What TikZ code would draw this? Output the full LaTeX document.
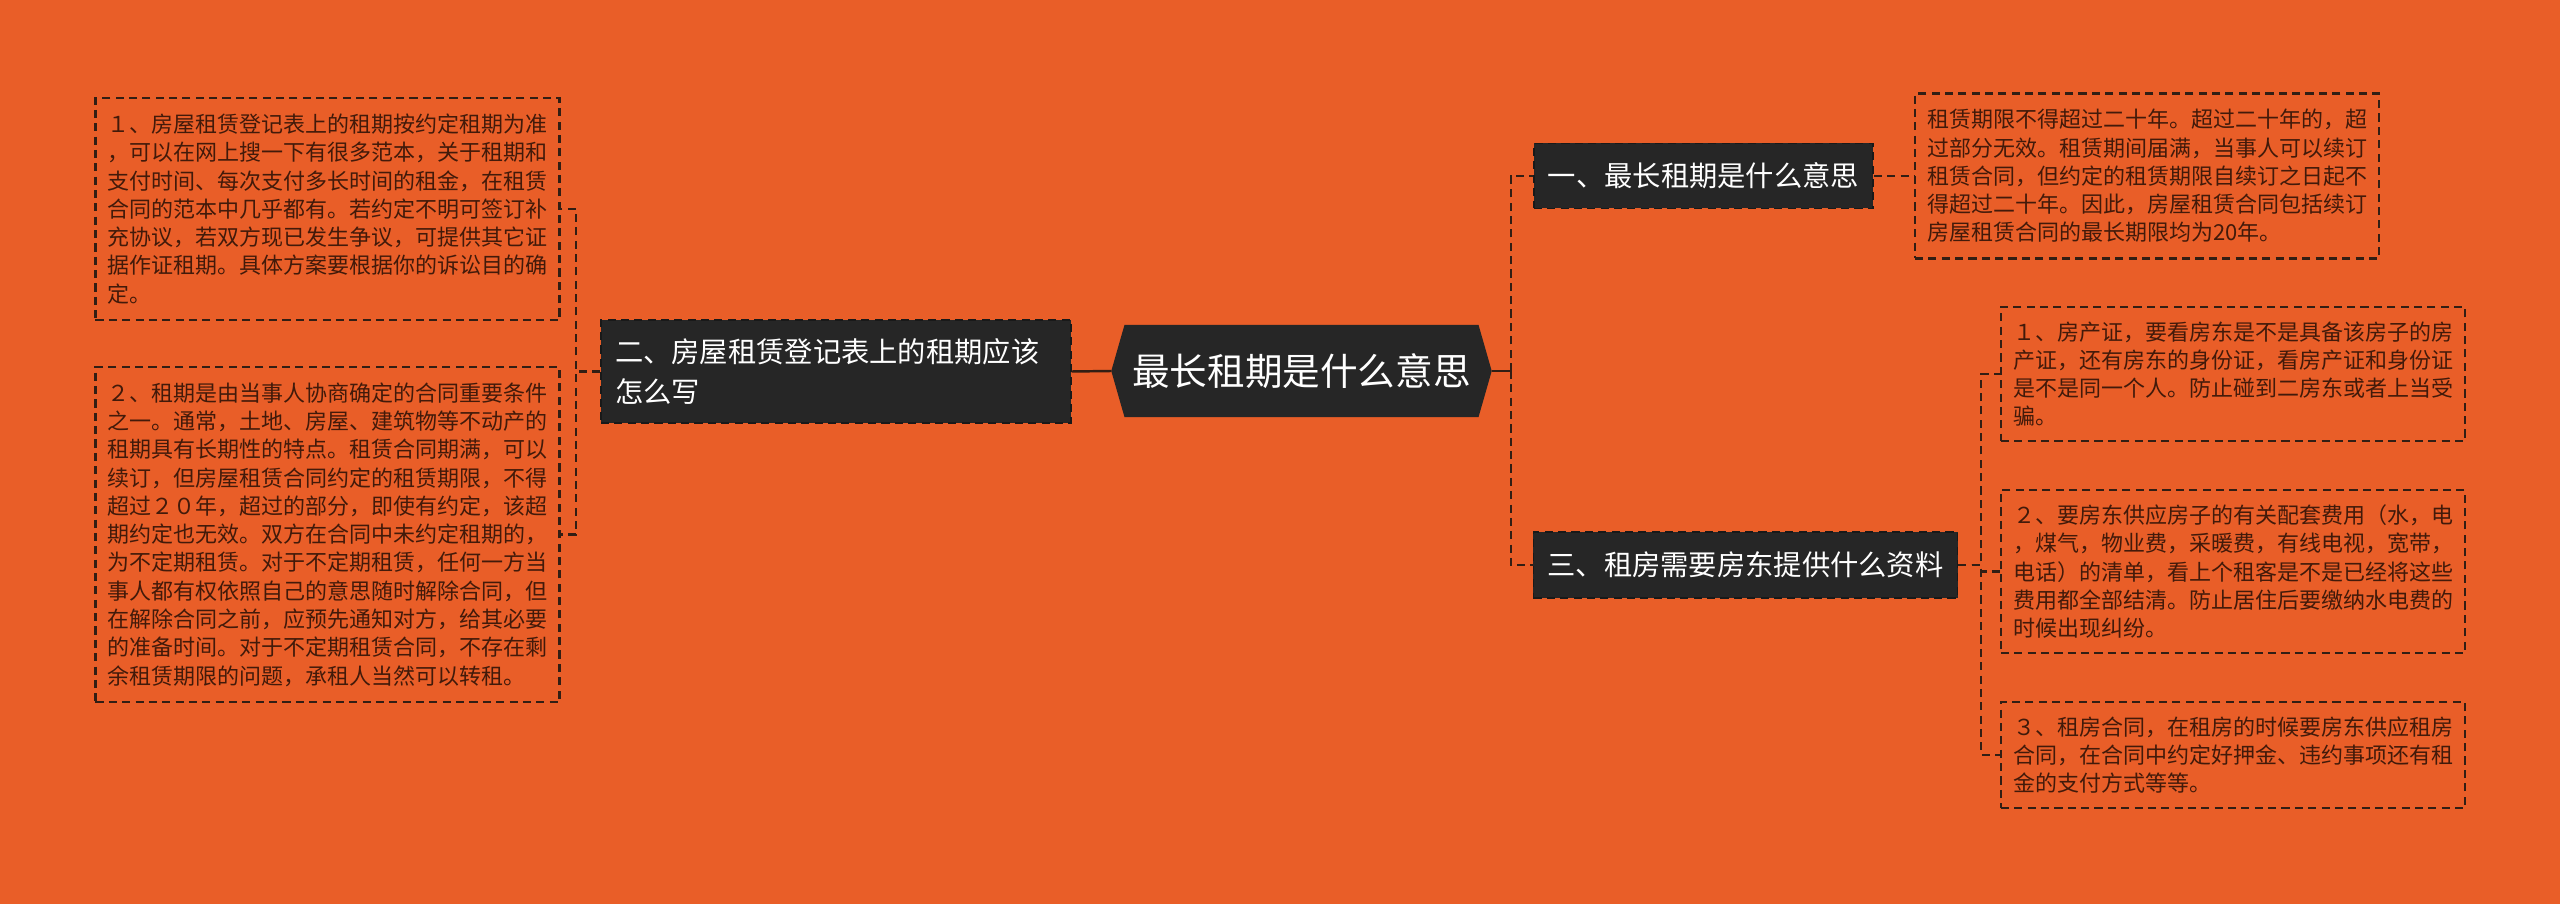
\documentclass[tikz,border=0pt]{standalone}
\usepackage{fontspec}
\usepackage{tikz}
\usetikzlibrary{positioning,shapes.symbols}
\newfontfamily\cjk{Noto Sans CJK SC}
\definecolor{MapOrange}{RGB}{233,94,40}
\definecolor{MapDark}{RGB}{38,38,38}
\definecolor{MapBrown}{RGB}{66,26,10}
\definecolor{MapLine}{RGB}{50,30,20}

\begin{document}
\begin{tikzpicture}[
  link/.style={draw=MapLine,line width=0.6pt,dash pattern=on 2.3pt off 1.5pt},
  rootlink/.style={draw=MapLine,line width=0.7pt},
  rootbox/.style={signal,signal to=east and west,signal pointer angle=148,fill=MapDark,draw=MapDark,
    text=white,inner sep=0pt,minimum width=3.79cm,minimum height=0.91cm,font=\cjk\fontsize{10.7pt}{12pt}\selectfont},
  topicbox/.style={fill=MapDark,draw=black!90,dash pattern=on 2.3pt off 1.5pt,text=white,align=left,
    inner xsep=0.14cm,inner ysep=0pt,font=\cjk\fontsize{8.05pt}{11.4pt}\selectfont},
  leafbox/.style={link,text=MapBrown,align=left,inner xsep=0.12cm,inner ysep=0.1cm,minimum width=4.64cm,
    font=\cjk\fontsize{6.26pt}{8.05pt}\selectfont}]
\useasboundingbox (0,0) rectangle (25.6,-9.04);
\fill[MapOrange] (0,0) rectangle (25.6,-9.04);

% centre
\node[rootbox] (root) at (13.015,-3.71) {最长租期是什么意思};

% left branch
\node[topicbox,text width=4.42cm,minimum height=1.03cm] (two) at (8.36,-3.715) {二、房屋租赁登记表上的租期应该\\怎么写};
\node[leafbox,minimum height=2.22cm] (two1) at (3.275,-2.09) {１、房屋租赁登记表上的租期按约定租期为准\\，可以在网上搜一下有很多范本，关于租期和\\支付时间、每次支付多长时间的租金，在租赁\\合同的范本中几乎都有。若约定不明可签订补\\充协议，若双方现已发生争议，可提供其它证\\据作证租期。具体方案要根据你的诉讼目的确\\定。};
\node[leafbox,minimum height=3.35cm] (two2) at (3.275,-5.345) {２、租期是由当事人协商确定的合同重要条件\\之一。通常，土地、房屋、建筑物等不动产的\\租期具有长期性的特点。租赁合同期满，可以\\续订，但房屋租赁合同约定的租赁期限，不得\\超过２０年，超过的部分，即使有约定，该超\\期约定也无效。双方在合同中未约定租期的，\\为不定期租赁。对于不定期租赁，任何一方当\\事人都有权依照自己的意思随时解除合同，但\\在解除合同之前，应预先通知对方，给其必要\\的准备时间。对于不定期租赁合同，不存在剩\\余租赁期限的问题，承租人当然可以转租。};

% right branches
\node[topicbox,minimum height=0.65cm] (one) at (17.035,-1.76) {一、最长租期是什么意思};
\node[leafbox,minimum height=1.65cm] (one1) at (21.47,-1.76) {租赁期限不得超过二十年。超过二十年的，超\\过部分无效。租赁期间届满，当事人可以续订\\租赁合同，但约定的租赁期限自续订之日起不\\得超过二十年。因此，房屋租赁合同包括续订\\房屋租赁合同的最长期限均为20年。};
\node[topicbox,minimum height=0.66cm] (three) at (17.455,-5.65) {三、租房需要房东提供什么资料};
\node[leafbox,minimum height=1.34cm] (three1) at (22.33,-3.74) {１、房产证，要看房东是不是具备该房子的房\\产证，还有房东的身份证，看房产证和身份证\\是不是同一个人。防止碰到二房东或者上当受\\骗。};
\node[leafbox,minimum height=1.63cm] (three2) at (22.33,-5.715) {２、要房东供应房子的有关配套费用（水，电\\，煤气，物业费，采暖费，有线电视，宽带，\\电话）的清单，看上个租客是不是已经将这些\\费用都全部结清。防止居住后要缴纳水电费的\\时候出现纠纷。};
\node[leafbox,minimum height=1.06cm] (three3) at (22.33,-7.55) {３、租房合同，在租房的时候要房东供应租房\\合同，在合同中约定好押金、违约事项还有租\\金的支付方式等等。};

% connectors
\draw[rootlink] (root.west) -- (two.east);
\draw[rootlink] (root.east) -- ++(0.19,0) coordinate (rootj);
\draw[link] (rootj) |- (one.west);
\draw[link] (rootj) |- (three.west);
\draw[link] (two.west) -- ++(-0.24,0) |- (two1.east);
\draw[link] (two.west) -- ++(-0.24,0) |- (two2.east);
\draw[link] (one.east) -- (one1.west);
\draw[link] (three.east) -- ++(0.23,0) |- (three1.west);
\draw[link] (three.east) -- ++(0.23,0) |- (three2.west);
\draw[link] (three.east) -- ++(0.23,0) |- (three3.west);
\end{tikzpicture}
\end{document}
